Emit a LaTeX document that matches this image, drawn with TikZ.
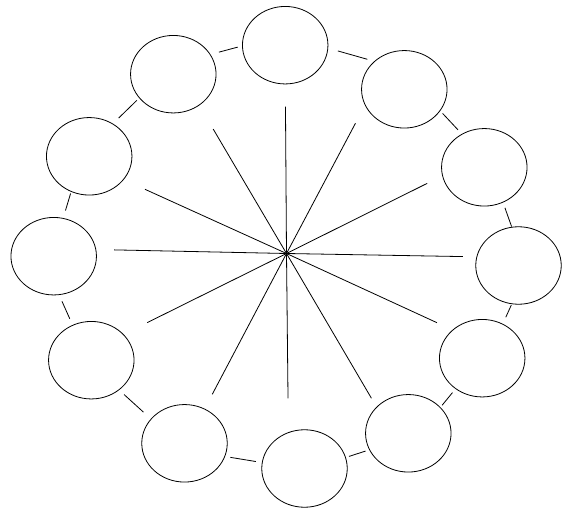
\documentclass[tikz,border=0pt]{standalone}
\usetikzlibrary{shapes.geometric,calc}
\begin{document}
\begin{tikzpicture}[x=1pt,y=1pt,line width=0.8pt,
  bubble/.style={draw,ellipse,minimum width=85.5pt,minimum height=77.5pt,inner sep=0pt},
  link/.style={draw},
  spoke/.style={draw}]
\useasboundingbox (0,0) rectangle (573,525);
\node[bubble] (e1)  at (285.2,479.8) {};
\node[bubble] (e2)  at (404.3,435.7) {};
\node[bubble] (e3)  at (484.3,357.7) {};
\node[bubble] (e4)  at (518.5,259.5) {};
\node[bubble] (e5)  at (482.2,166.8) {};
\node[bubble] (e6)  at (408.3,91.7) {};
\node[bubble] (e7)  at (304.5,56.5) {};
\node[bubble] (e8)  at (184.5,81.7) {};
\node[bubble] (e9)  at (91.3,164.8) {};
\node[bubble] (e10) at (53.7,268.8) {};
\node[bubble] (e11) at (89.2,368.7) {};
\node[bubble] (e12) at (173.3,450.8) {};
\coordinate (C) at (286.5,271.5);
\coordinate (s1)  at ($(C)+(90.4:146.8pt)$);
\coordinate (s2)  at ($(C)+(62.1:147.3pt)$);
\coordinate (s3)  at ($(C)+(26.5:157.1pt)$);
\coordinate (s4)  at ($(C)+(-1:176.5pt)$);
\coordinate (s5)  at ($(C)+(-24.7:165.6pt)$);
\coordinate (s6)  at ($(C)+(-59.6:167.8pt)$);
\coordinate (s7)  at ($(C)+(-89.4:144.8pt)$);
\coordinate (s8)  at ($(C)+(-117.8:159.2pt)$);
\coordinate (s9)  at ($(C)+(-153.6:155.5pt)$);
\coordinate (s10) at ($(C)+(178.8:172.5pt)$);
\coordinate (s11) at ($(C)+(155.6:155.4pt)$);
\coordinate (s12) at ($(C)+(120.5:144.4pt)$);
\foreach \i in {1,...,12} \draw[spoke] (C) -- (s\i);
\draw[link,shorten <=8.7pt,shorten >=4.5pt] (e12.28) -- (e1.181);
\draw[link,shorten <=10pt,shorten >=7.1pt] (e1.356) -- (e2.137);
\draw[link,shorten <=3.4pt,shorten >=5.6pt] (e2.329) -- (e3.124);
\draw[link,shorten <=5.6pt,shorten >=0.3pt] (e3.298) -- (e4.100);
\draw[link,shorten <=1pt,shorten >=7.2pt] (e4.260) -- (e5.59);
\draw[link,shorten <=4.8pt,shorten >=2.5pt] (e5.229) -- (e6.39);
\draw[link,shorten <=3.9pt,shorten >=3.3pt] (e6.203) -- (e7.15);
\draw[link,shorten <=6.1pt,shorten >=5.3pt] (e7.172) -- (e8.342);
\draw[link,shorten <=10pt,shorten >=6.6pt] (e8.144) -- (e9.313);
\draw[link,shorten <=6.7pt,shorten >=6.9pt] (e9.118) -- (e10.278);
\draw[link,shorten <=7.8pt,shorten >=1.7pt] (e10.76) -- (e11.243);
\draw[link,shorten <=7.9pt,shorten >=3.3pt] (e11.54) -- (e12.215);
\end{tikzpicture}
\end{document}
